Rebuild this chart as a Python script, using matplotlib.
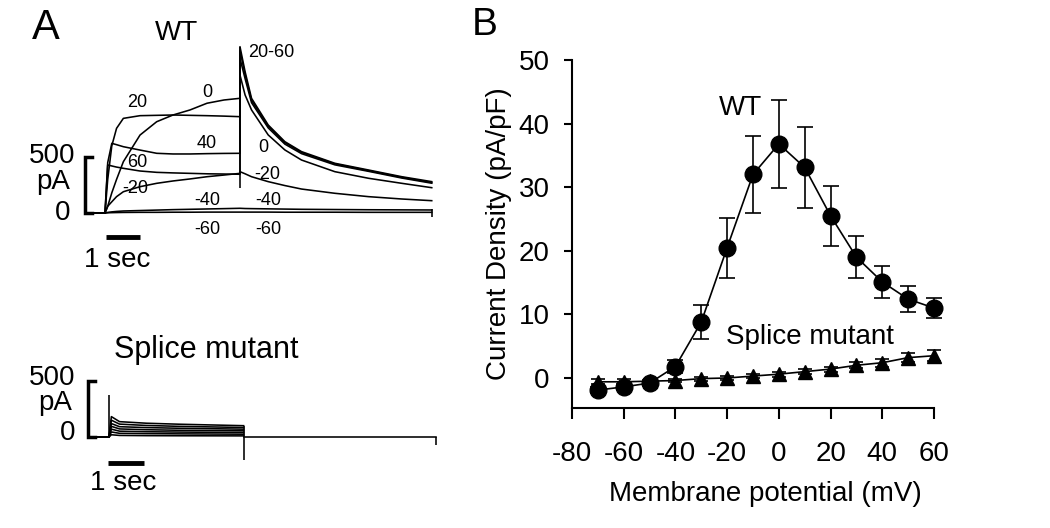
import matplotlib
matplotlib.use("Agg")
import matplotlib.pyplot as plt

plt.rcParams['font.family'] = ['Liberation Sans', 'DejaVu Sans']
plt.rcParams['axes.unicode_minus'] = False

# ---------------- panel B: current density vs membrane potential
voltage_mv = [-70, -60, -50, -40, -30, -20, -10, 0, 10, 20, 30, 40, 50, 60]
wt_density = [-1.9, -1.4, -0.8, 1.8, 8.8, 20.5, 32.0, 36.8, 33.1, 25.5, 19.0, 15.1, 12.4, 11.0]
wt_sem = [0.5, 0.5, 0.5, 1.0, 2.6, 4.7, 6.1, 6.9, 6.3, 4.7, 3.3, 2.5, 2.0, 1.6]
splice_density = [-0.6, -0.6, -0.5, -0.4, -0.1, 0.0, 0.3, 0.6, 1.0, 1.4, 2.0, 2.4, 3.2, 3.5]
splice_sem = [0.4, 0.4, 0.3, 0.3, 0.3, 0.3, 0.3, 0.4, 0.4, 0.4, 0.5, 0.6, 0.7, 0.9]

# ---------------- panel A: WT current traces (pA)
pre_t = [-0.35, 0.0]
pulse_t = [0.0, 0.08, 0.2, 0.34, 0.54, 1.03, 1.52, 2.0, 2.5, 3.0, 3.5, 3.97]
wt_pulse_p60 = [0, 429, 420, 410, 399, 375, 363, 358, 354, 350, 348, 346]
wt_pulse_p40 = [0, 450, 622, 610, 592, 562, 533, 527, 527, 530, 532, 533]
wt_pulse_p20 = [0, 300, 600, 756, 845, 869, 872, 875, 872, 869, 865, 860]
wt_pulse_0 = [0, 60, 180, 300, 458, 696, 815, 875, 920, 980, 1009, 1024]
wt_pulse_m20 = [0, 60, 100, 146, 190, 235, 265, 286, 304, 324, 339, 354]
wt_pulse_m40 = [0, 5, 10, 14, 18, 22, 26, 30, 33, 36, 39, 42]
wt_pulse_m60 = [0, 2, 3, 4, 5, 6, 6, 7, 7, 8, 8, 8]

tail_t = [3.97, 4.12, 4.31, 4.80, 5.29, 5.78, 6.76, 7.75, 8.73, 9.61]
wt_tail_p60 = [1485, 1262, 1024, 786, 637, 548, 444, 384, 324, 280]
wt_tail_p40 = [1450, 1235, 1005, 775, 628, 540, 438, 378, 318, 272]
wt_tail_p20 = [1380, 1200, 985, 760, 615, 530, 430, 372, 312, 266]
wt_tail_0 = [1232, 1054, 920, 697, 563, 473, 369, 310, 265, 226]
wt_tail_m20 = [369, 350, 324, 280, 245, 214, 176, 146, 125, 110]
wt_tail_m40 = [42, 40, 39, 37, 35, 33, 31, 29, 28, 27]
wt_tail_m60 = [8, 8, 8, 8, 7, 7, 7, 6, 6, 6]
wt_step_artifact = [223, 1485]

wt_labels = ["20", "0", "40", "60", "-20", "-40", "-60",
             "20-60", "0", "-20", "-40", "-60"]
wt_label_t = [0.94, 3.0, 3.0, 0.94, 0.88, 3.0, 3.0, 4.9, 4.65, 4.76, 4.8, 4.8]
wt_label_pa = [991, 1072, 625, 447, 223, 116, -143, 1429, 589, 348, 116, -143]

# ---------------- panel A: splice mutant traces (pA)
splice_t = [0.0, 0.07, 0.31, 1.1, 2.08, 3.96]
splice_tr1 = [0, 182, 137, 123, 114, 101]
splice_tr2 = [0, 150, 115, 103, 95, 85]
splice_tr3 = [0, 120, 92, 84, 78, 70]
splice_tr4 = [0, 95, 72, 65, 60, 55]
splice_tr5 = [0, 70, 52, 47, 44, 40]
splice_tr6 = [0, 45, 33, 30, 28, 25]
splice_tr7 = [0, 20, 14, 12, 11, 10]
splice_onset_spike = [0, 377]
splice_offset_spike = [-206, 101]
splice_tail_t = [3.96, 9.63]
splice_tail = [0, 0]

W, H = 1050, 528
fig = plt.figure(figsize=(10.5, 5.28), dpi=100)

PX_S = 34.0          # pixels per second
PX_PA = 56.0 / 500   # pixels per pA
TRACE_LW = 1.15


def trace_axes(x0, y0, xlim, ylim):
    # axes whose data origin (t=0, I=0) sits at pixel (x0, y0)
    left = x0 + xlim[0] * PX_S
    right = x0 + xlim[1] * PX_S
    top = y0 - ylim[1] * PX_PA
    bottom = y0 - ylim[0] * PX_PA
    ax = fig.add_axes([left / W, 1 - bottom / H, (right - left) / W, (bottom - top) / H])
    ax.set_xlim(xlim)
    ax.set_ylim(ylim)
    ax.axis("off")
    return ax


def scale_bars(ax, tb, t_bar, y_bar, txt):
    ax.plot([tb + 0.2, tb, tb, tb + 0.2], [0, 0, 500, 500], color="k", lw=2.5,
            solid_joinstyle="miter")
    ax.plot(t_bar, [y_bar, y_bar], color="k", lw=3.5, solid_capstyle="butt")
    for s, tx, ty in txt:
        ax.text(tx, ty, s, fontsize=20, ha="right" if s != "1 sec" else "center",
                va="center")


# WT traces
axw = trace_axes(105, 213, (-3.0, 10.0), (-700, 1880))
pairs = [(wt_pulse_p60, wt_tail_p60), (wt_pulse_p40, wt_tail_p40),
         (wt_pulse_p20, wt_tail_p20), (wt_pulse_0, wt_tail_0),
         (wt_pulse_m20, wt_tail_m20), (wt_pulse_m40, wt_tail_m40),
         (wt_pulse_m60, wt_tail_m60)]
for p, tl in pairs:
    axw.plot(pre_t + pulse_t + tail_t, [0, 0] + p + tl, color="k", lw=TRACE_LW)
axw.vlines(pulse_t[-1], wt_step_artifact[0], wt_step_artifact[1], color="k", lw=TRACE_LW)
axw.vlines(tail_t[-1], -40, 40, color="k", lw=TRACE_LW)
for s, tx, ty in zip(wt_labels, wt_label_t, wt_label_pa):
    axw.text(tx, ty, s, fontsize=13, ha="center", va="center")
axw.text(2.1, 1607, "WT", fontsize=20, ha="center", va="center")
scale_bars(axw, -0.59, [0.03, 1.03], -214,
           [("500", -0.88, 510), ("pA", -1.03, 277), ("0", -1.03, 0), ("1 sec", 0.35, -420)])

# splice mutant traces
axs = trace_axes(109, 437, (-3.0, 10.0), (-700, 1000))
for tr in [splice_tr1, splice_tr2, splice_tr3, splice_tr4, splice_tr5, splice_tr6, splice_tr7]:
    axs.plot(pre_t + splice_t, [0, 0] + tr, color="k", lw=TRACE_LW)
axs.vlines(splice_t[0], splice_onset_spike[0], splice_onset_spike[1], color="k", lw=TRACE_LW)
axs.vlines(splice_t[-1], splice_offset_spike[0], splice_offset_spike[1], color="k", lw=TRACE_LW)
axs.plot(splice_tail_t, splice_tail, color="k", lw=TRACE_LW)
axs.vlines(splice_tail_t[-1], -70, 0, color="k", lw=TRACE_LW)
axs.text(2.87, 777, "Splice mutant", fontsize=22, ha="center", va="center")
scale_bars(axs, -0.62, [-0.03, 1.03], -235,
           [("500", -1.0, 531), ("pA", -1.09, 304), ("0", -1.0, 36), ("1 sec", 0.41, -411)])

# I-V plot
axb = fig.add_axes([572 / W, 1 - 408 / H, 362 / W, 348 / H])
axb.errorbar(voltage_mv, splice_density, yerr=splice_sem, color="k", marker="^",
             markersize=10, lw=1.2, elinewidth=1.2, capsize=5, capthick=1.2,
             clip_on=False, zorder=3)
axb.errorbar(voltage_mv, wt_density, yerr=wt_sem, color="k", marker="o",
             markersize=12, lw=1.2, elinewidth=1.2, capsize=5.5, capthick=1.2,
             clip_on=False, zorder=4)
axb.set_xlim(-80, 60)
axb.set_ylim(-4.72, 50)
axb.set_xticks(range(-80, 61, 20))
axb.set_yticks(range(0, 51, 10))
for side in ["top", "right"]:
    axb.spines[side].set_visible(False)
for side in ["left", "bottom"]:
    axb.spines[side].set_linewidth(1.5)
axb.tick_params(axis="both", labelsize=20, width=1.5, direction="out")
axb.tick_params(axis="x", length=8, pad=16)
axb.tick_params(axis="y", length=6, pad=10)
axb.set_xlabel("Membrane potential (mV)", fontsize=20)
axb.set_ylabel("Current Density (pA/pF)", fontsize=20)
axb.xaxis.set_label_coords(0.533, -0.21)
axb.yaxis.set_label_coords(-0.165, 0.5)
axb.text(-15, 42.5, "WT", fontsize=20, ha="center", va="center")
axb.text(12, 6.4, "Splice mutant", fontsize=20, ha="center", va="center")

fig.text(46 / W, 1 - 28 / H, "A", fontsize=30, ha="center", va="center")
fig.text(485 / W, 1 - 25 / H, "B", fontsize=28, ha="center", va="center")

fig.savefig("out.png", dpi=100)
